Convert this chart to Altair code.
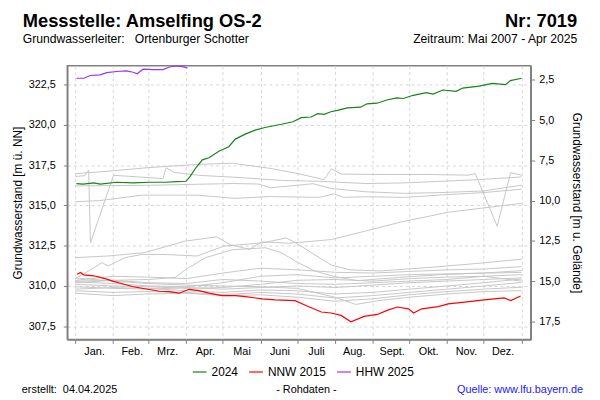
import altair as alt
import pandas as pd

# ---------------- data ----------------
MONTH_STARTS = [0, 31, 60, 91, 121, 152, 182, 213, 244, 274, 305, 335, 366]
MONTH_LABELS = ["Jan.", "Feb.", "Mrz.", "Apr.", "Mai", "Juni", "Juli", "Aug.",
                "Sept.", "Okt.", "Nov.", "Dez.", ""]
LEVEL_TICKS = [307.5, 310.0, 312.5, 315.0, 317.5, 320.0, 322.5]
DEPTH_TICKS = [2.5, 5.0, 7.5, 10.0, 12.5, 15.0, 17.5]
GROUND = 325.3  # Geländehöhe [m ü. NN]

SERIES_NAMES = ["2024", "NNW 2015", "HHW 2025"]
SERIES_COLORS = ["#168416", "#ff0000", "#9933ff"]

Y2024_DAY = [1, 6.4, 15.1, 20.5, 34, 47.5, 61, 74.6, 82.7, 90.8, 94, 98.9, 104.3, 109.7,
             117.8, 125.9, 131.3, 139.4, 147.5, 155.6, 169.1, 178.5, 185.3, 193.4, 198.8,
             204.2, 209.6, 215, 223.1, 233.9, 239.3, 247.4, 255.5, 263.6, 269, 277.1, 288,
             293.4, 301.5, 312.3, 317.7, 331.2, 342, 352.8, 356.8, 366]
Y2024_LEVEL = [316.36, 316.32, 316.40, 316.32, 316.44, 316.40, 316.44, 316.44, 316.48, 316.50,
               316.77, 317.34, 317.83, 317.96, 318.36, 318.65, 319.12, 319.43, 319.68, 319.84,
               320.04, 320.20, 320.45, 320.49, 320.70, 320.66, 320.82, 320.90, 321.06, 321.10,
               321.31, 321.35, 321.55, 321.68, 321.64, 321.84, 322.00, 321.92, 322.17, 322.09,
               322.29, 322.41, 322.58, 322.50, 322.75, 322.90]

NNW_DAY = [1.6, 4.3, 7, 15.2, 20.5, 25.9, 31.3, 39.4, 47.5, 58.3, 69.1, 77.2, 85.3, 93.4,
           101.5, 109.6, 120.4, 131.3, 139.6, 153.2, 164, 180.2, 191, 201.8, 209.9, 218,
           226.1, 236.9, 247.7, 255.8, 264, 273.4, 277.4, 284.2, 297.7, 305.8, 319.3, 335.5,
           351.7, 357.1, 365.2]
NNW_LEVEL = [310.73, 310.84, 310.69, 310.63, 310.53, 310.42, 310.28, 310.12, 309.95, 309.81,
             309.67, 309.65, 309.55, 309.79, 309.71, 309.55, 309.40, 309.40, 309.34, 309.20,
             309.13, 309.09, 308.72, 308.38, 308.32, 308.17, 307.77, 308.11, 308.23, 308.48,
             308.69, 308.58, 308.32, 308.58, 308.72, 308.89, 308.99, 309.13, 309.26, 309.09,
             309.38]

HHW_DAY = [1, 7, 12.4, 20.5, 25.9, 34, 42, 47.5, 50.8, 55.6, 63.7, 71.9, 77.3, 82.7, 88, 92]
HHW_LEVEL = [322.90, 322.90, 323.07, 323.11, 323.25, 323.32, 323.36, 323.27, 323.18, 323.46,
             323.44, 323.44, 323.60, 323.66, 323.62, 323.54]

# other years (grey), (day of year, level)
G01 = [(0, 316.97), (31, 317.15), (60, 317.35), (100, 317.55), (129, 317.62), (160, 317.3),
       (183, 316.97), (204, 316.6), (210, 317.28), (218, 316.95), (250, 316.92), (290, 316.92),
       (322, 316.88), (328, 316.98), (346, 313.7), (357, 317.04), (366, 316.87)]
G02 = [(0, 316.8), (8, 316.85), (11, 317.18), (12.5, 312.68), (31.4, 316.87), (50, 316.78),
       (72, 316.67), (74.6, 317.34), (81, 317.05), (101, 316.87), (131, 316.75), (170, 316.55),
       (200, 316.5), (238, 316.36), (270, 316.4), (300, 316.5), (330, 316.6), (366, 316.77)]
G03 = [(0, 316.21), (60, 316.25), (129, 316.36), (150, 316.33), (160, 316.1), (175, 316.2),
       (195, 316.35), (210, 316.05), (238, 315.85), (270, 315.75), (300, 315.8), (335, 315.9),
       (366, 316.26)]
G04 = [(0, 315.23), (20, 315.3), (55, 315.64), (100, 315.64), (131, 315.44), (160, 315.55),
       (200, 315.5), (212, 315.72), (220, 315.5), (238, 315.54), (270, 315.5), (300, 315.65),
       (335, 315.8), (366, 316.01)]
G05 = [(0, 311.76), (27, 311.86), (57, 312.07), (90, 312.78), (116, 313.05), (127, 312.57),
       (143, 312.27), (153, 312.74), (175, 312.65), (210, 312.88), (237, 313.39), (267, 313.97),
       (306, 314.58), (366, 315.13)]
G06 = [(0, 310.45), (11, 310.93), (22, 311.45), (27, 311.24), (41, 311.76), (55, 311.96),
       (75, 311.95), (100, 311.86), (122, 312.47), (154, 312.68), (173, 312.98), (181, 312.68),
       (195, 312.0), (210, 311.3), (225, 311.0), (250, 310.93), (289, 311.14), (330, 311.4),
       (366, 311.66)]
G07 = [(0, 310.3), (31, 310.35), (60, 310.4), (82, 310.53), (91, 311.04), (107, 311.76),
       (129, 312.25), (156, 312.37), (169, 312.06), (183, 311.44), (196, 310.94), (210, 310.63),
       (231, 310.33), (266, 310.53), (300, 310.7), (335, 310.8), (366, 310.95)]
G08 = [(0, 310.35), (31, 310.6), (60, 310.55), (91, 310.45), (121, 310.8), (152, 311.1),
       (182, 311.0), (213, 310.85), (244, 310.8), (274, 310.9), (305, 311.0), (335, 311.05),
       (366, 311.2)]
G09 = [(0, 310.25), (31, 310.15), (60, 310.0), (91, 309.95), (121, 310.2), (152, 310.6),
       (182, 310.7), (213, 310.5), (244, 310.6), (274, 310.7), (305, 310.75), (335, 310.8),
       (366, 310.84)]
G10 = [(0, 310.1), (31, 310.0), (60, 309.95), (91, 309.85), (121, 309.9), (152, 310.1),
       (182, 310.35), (213, 310.4), (244, 310.3), (274, 310.45), (305, 310.55), (335, 310.6),
       (366, 310.7)]
G11 = [(0, 309.95), (31, 309.85), (60, 309.8), (91, 309.9), (121, 309.8), (152, 309.9),
       (182, 310.0), (213, 309.9), (244, 310.05), (274, 310.2), (305, 310.3), (335, 310.4),
       (366, 310.5)]
G12 = [(0, 309.8), (31, 309.9), (60, 309.85), (91, 309.7), (121, 309.6), (152, 309.75),
       (182, 309.7), (213, 309.5), (244, 309.6), (274, 309.8), (305, 310.0), (335, 310.2),
       (366, 310.43)]
G13 = [(0, 309.7), (31, 309.6), (60, 309.65), (91, 309.6), (121, 309.45), (152, 309.6),
       (182, 309.5), (213, 309.25), (244, 309.4), (274, 309.6), (305, 309.8), (335, 310.0),
       (366, 310.22)]
G14 = [(0, 309.55), (31, 309.4), (60, 309.5), (91, 309.55), (121, 309.4), (152, 309.45),
       (182, 309.3), (213, 309.05), (244, 309.2), (274, 309.45), (305, 309.65), (335, 309.8),
       (366, 309.92)]
G15 = [(0, 310.5), (31, 310.3), (60, 310.15), (91, 310.05), (121, 310.0), (152, 309.95),
       (182, 309.85), (213, 309.3), (230, 308.85), (250, 309.1), (274, 309.3), (305, 309.5),
       (335, 309.65), (366, 309.71)]
G16 = [(0, 310.2), (31, 310.35), (60, 310.2), (91, 310.15), (121, 310.4), (152, 310.3),
       (182, 310.15), (213, 310.1), (244, 310.2), (274, 310.3), (305, 310.4), (335, 310.6),
       (366, 310.3)]
GREY_LINES = [G01, G02, G03, G04, G05, G06, G07, G08, G09, G10, G11, G12, G13, G14, G15, G16]

# ---------------- tables ----------------
grey_rows = []
for i, line in enumerate(GREY_LINES):
    for k, (d, v) in enumerate(line):
        grey_rows.append({"series": f"g{i:02d}", "order": k, "day": d, "level": v})
grey_df = pd.DataFrame(grey_rows)

col_rows = []
for name, days, levels in zip(SERIES_NAMES, [Y2024_DAY, NNW_DAY, HHW_DAY],
                              [Y2024_LEVEL, NNW_LEVEL, HHW_LEVEL]):
    for k, (d, v) in enumerate(zip(days, levels)):
        col_rows.append({"series": name, "order": k, "day": d, "level": v})
col_df = pd.DataFrame(col_rows)

# ---------------- scales / axes ----------------
FONT = "Liberation Sans"
W, H = 469, 277
NB = "\u00a0"

x_label_expr = ("[" + ",".join(f"'{m}'" for m in MONTH_LABELS) + "][indexof(["
                + ",".join(str(d) for d in MONTH_STARTS) + "], datum.value)]")
comma_expr = "replace(format(datum.value, '.1f'), '.', ',')"

x_scale = alt.Scale(domain=[-6.5, 373.5], nice=False, zero=False)
y_scale = alt.Scale(domain=[306.68, 323.68], nice=False, zero=False)
d_scale = alt.Scale(domain=[GROUND - 323.68, GROUND - 306.68], nice=False, zero=False, reverse=True)

x_axis = alt.Axis(values=MONTH_STARTS, labelExpr=x_label_expr, labelOffset=19,
                  labelOverlap=False, labelBound=False, labelFlush=False,
                  labelFontSize=11, labelColor="black", labelPadding=2,
                  tickSize=4, tickColor="#808080", domainColor="#808080", domainWidth=1.5,
                  grid=True, gridDash=[3, 3], gridColor="#d6d6d6", title=None)
y_axis = alt.Axis(values=LEVEL_TICKS, labelExpr=comma_expr, labelFontSize=11,
                  labelColor="black", labelPadding=8, tickSize=4, tickColor="#808080",
                  domainColor="#808080", domainWidth=1.5, grid=True, gridDash=[3, 3],
                  gridColor="#d6d6d6", title="Grundwasserstand [m ü. NN]", titleFontSize=12,
                  titleFontWeight="normal", titleColor="black", titlePadding=4)
d_axis = alt.Axis(orient="right", values=DEPTH_TICKS, labelExpr=comma_expr, labelFontSize=11,
                  labelColor="black", labelPadding=4, tickSize=4, tickColor="#808080",
                  domainColor="#808080", domainWidth=1.5, grid=False,
                  title="Grundwasserstand [m u. Gelände]", titleFontSize=12,
                  titleFontWeight="normal", titleColor="black", titlePadding=10)

grey = alt.Chart(grey_df).mark_line(color="#c6c6c6", strokeWidth=1).encode(
    x=alt.X("day:Q", scale=x_scale, axis=x_axis),
    y=alt.Y("level:Q", scale=y_scale, axis=y_axis),
    detail="series:N",
    order="order:Q",
)

colored = alt.Chart(col_df).mark_line(strokeWidth=1.2).encode(
    x=alt.X("day:Q", scale=x_scale, axis=x_axis),
    y=alt.Y("level:Q", scale=y_scale, axis=y_axis),
    color=alt.Color("series:N",
                    scale=alt.Scale(domain=SERIES_NAMES, range=SERIES_COLORS),
                    legend=alt.Legend(orient="none", legendX=126, legendY=302,
                                      direction="horizontal", title=None,
                                      symbolType="stroke", symbolSize=196,
                                      symbolStrokeWidth=1.2, labelFontSize=12,
                                      labelColor="black", columnPadding=8,
                                      labelOffset=4, padding=0)),
    order="order:Q",
)

depth = alt.Chart(col_df).transform_calculate(
    depth=f"{GROUND} - datum.level"
).mark_line(opacity=0).encode(
    x=alt.X("day:Q", scale=x_scale, axis=x_axis),
    y=alt.Y("depth:Q", scale=d_scale, axis=d_axis),
    detail="series:N",
)


def label(text, x, y, size=12, weight="normal", align="left", color="black"):
    return alt.Chart(pd.DataFrame({"t": [text]})).mark_text(
        fontSize=size, fontWeight=weight, align=align, baseline="alphabetic",
        color=color, font=FONT
    ).encode(text="t:N", x=alt.value(x), y=alt.value(y))


texts = [
    label("Messstelle: Amselfing OS-2", -45, -39, size=18.5, weight="bold"),
    label("Nr: 7019", 516, -39, size=18.5, weight="bold", align="right"),
    label(f"Grundwasserleiter:{NB}{NB}{NB}Ortenburger Schotter", -45, -23, size=12.3),
    label("Zeitraum: Mai 2007 - Apr 2025", 516, -23, size=12.3, align="right"),
    label(f"erstellt:{NB}{NB}04.04.2025", -46, 331, size=11),
    label("- Rohdaten -", 242, 331, size=11, align="center"),
    label("Quelle: www.lfu.bayern.de", 522, 331, size=11, align="right", color="#2020ff"),
]

chart = alt.layer(
    alt.layer(grey, colored),
    depth,
    *texts,
).resolve_scale(y="independent").properties(
    width=W, height=H,
    autosize=alt.AutoSizeParams(type="none"),
    padding={"left": 60, "top": 56, "right": 62, "bottom": 62},
).configure(font=FONT).configure_view(stroke="#808080", strokeWidth=1.5)

chart.save("out.html", embed_options={"renderer": "svg", "actions": False})
